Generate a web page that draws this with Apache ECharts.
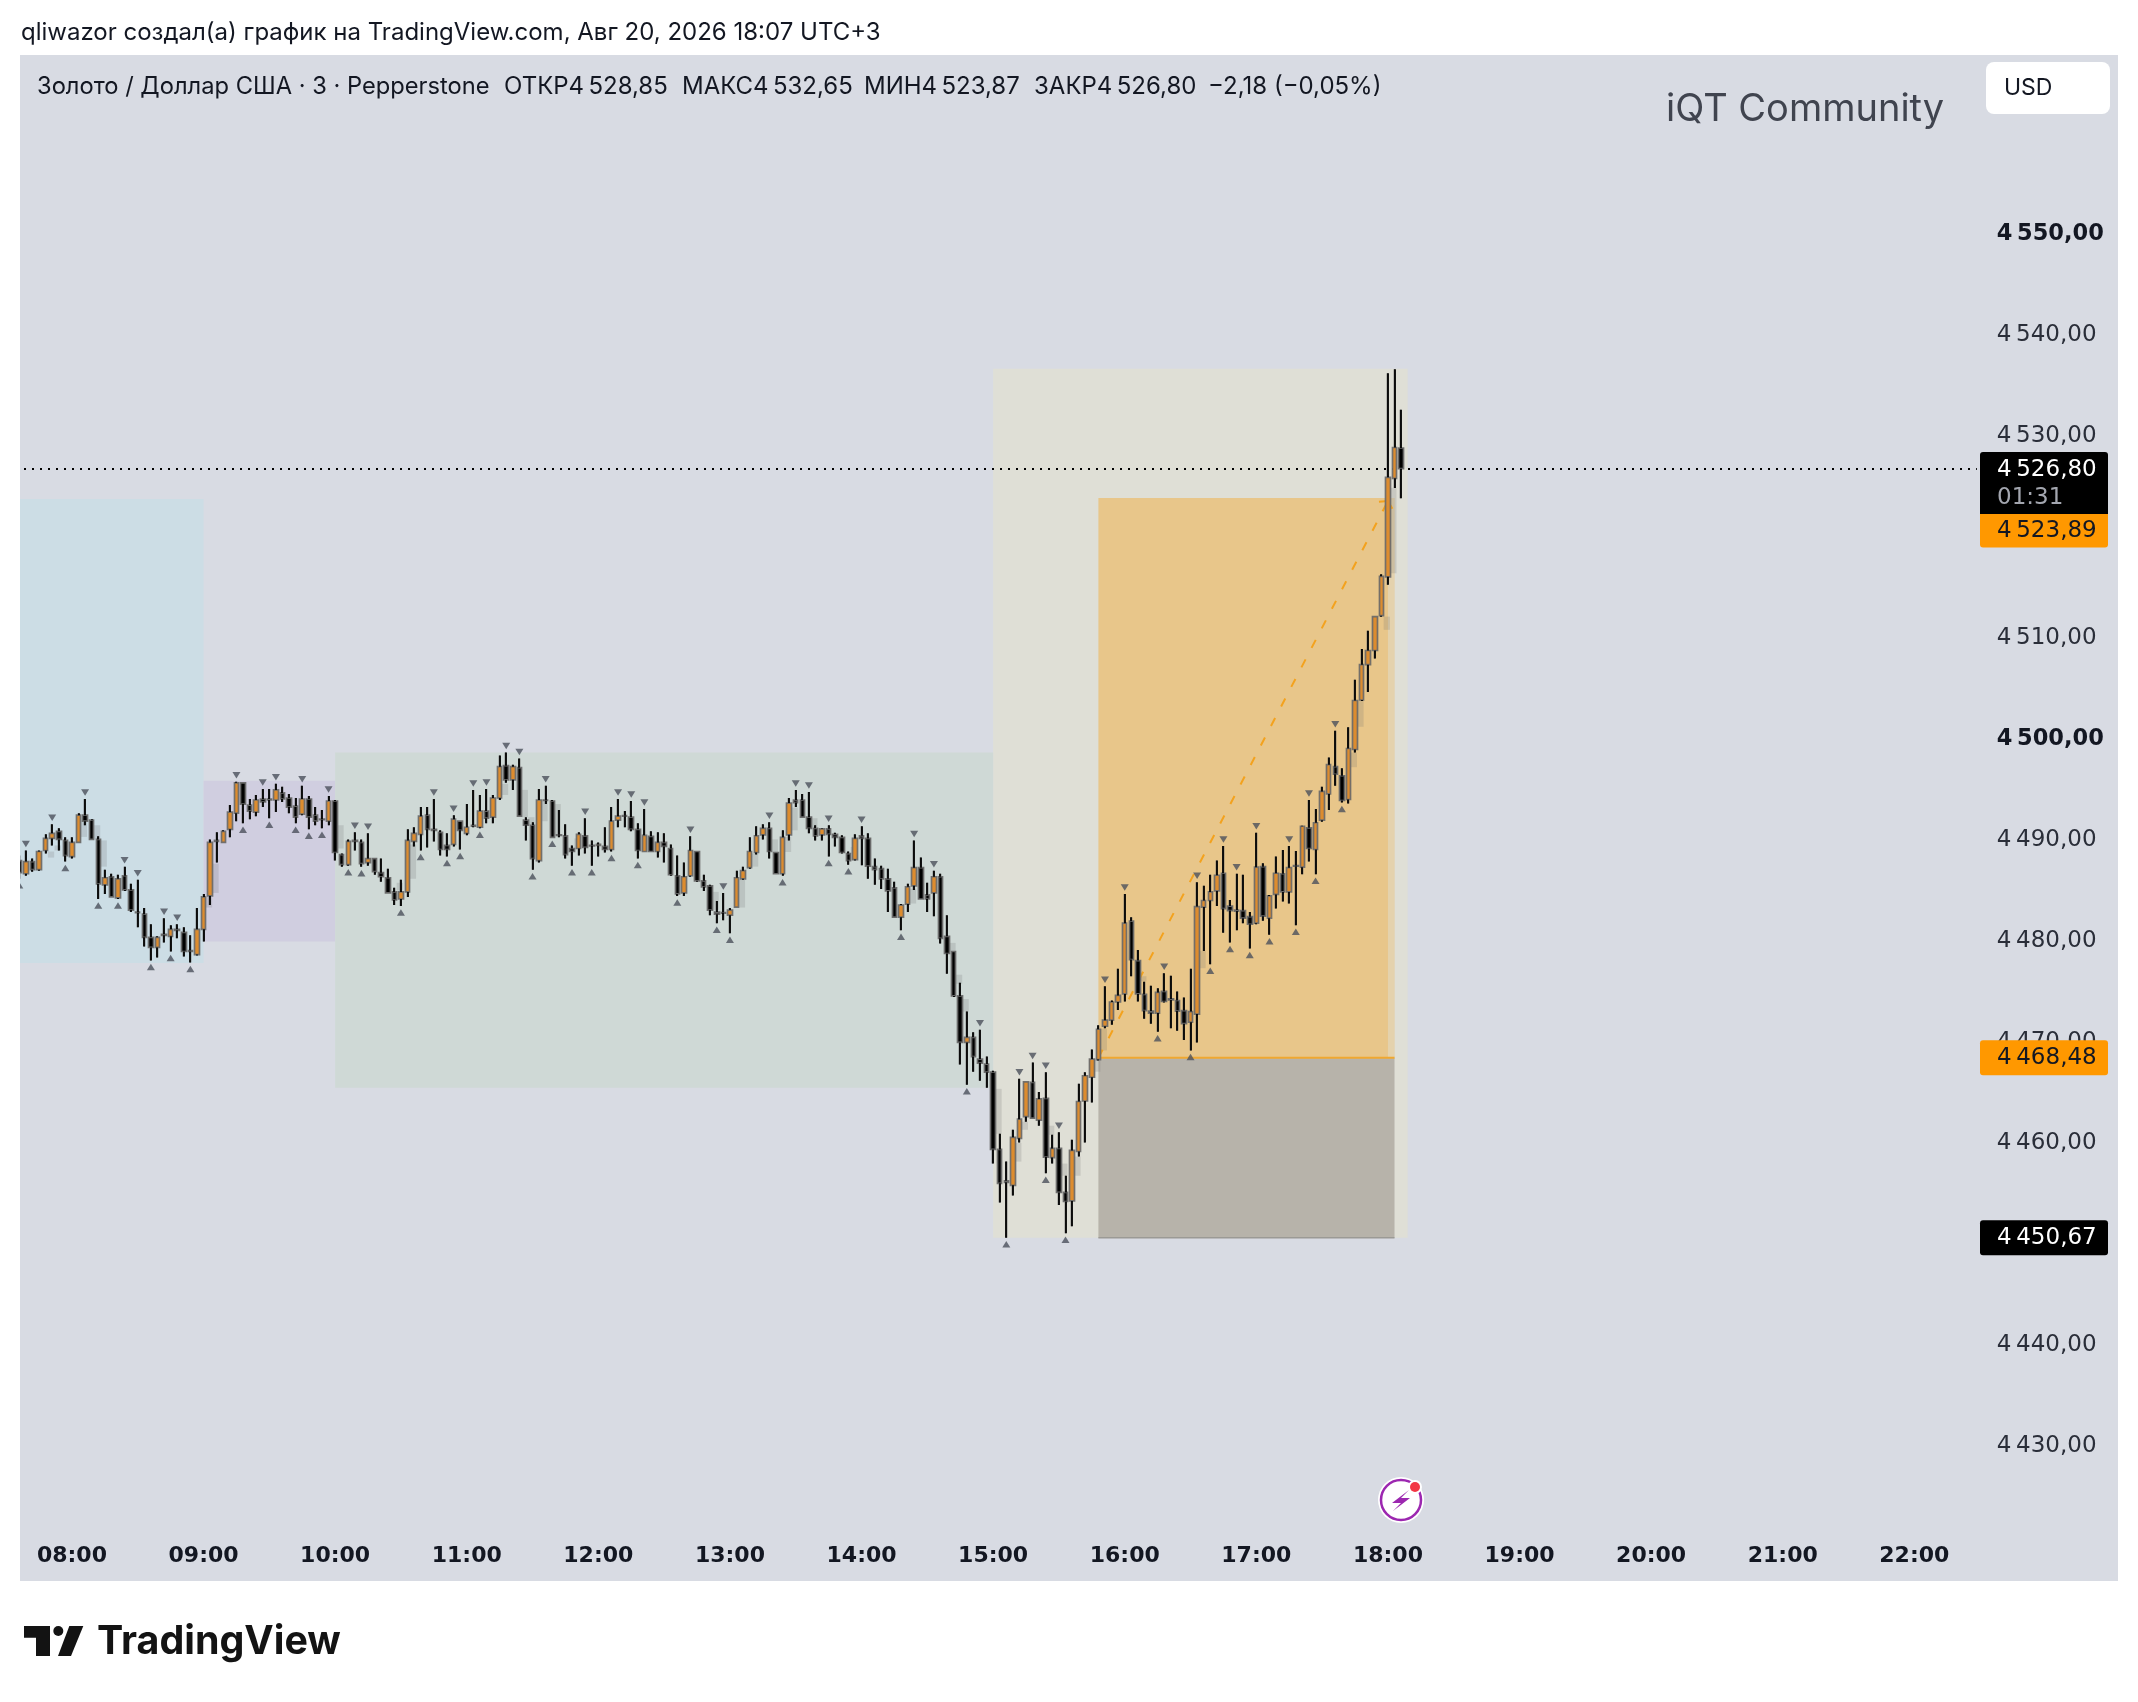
<!DOCTYPE html>
<html>
<head>
<meta charset="utf-8">
<style>html,body{margin:0;padding:0;background:#fff}#c{width:2138px;height:1702px}</style>
<script src="https://cdn.jsdelivr.net/npm/echarts@6/dist/echarts.min.js"></script>
</head>
<body>
<div id="c"></div>
<script>
// ---- tick labels
const priceTicks = [4550,4540,4530,4520,4510,4500,4490,4480,4470,4460,4450,4440,4430];
const boldPriceTicks = [4550,4500];

// ---- 3-minute candles; the first bar is 07:36, bar n is n*3 minutes later
const opens = [4488.0,
4486.7,4487.9,4487.1,4489.0,4490.2,4490.9,4490.0,4488.4,4489.8,4492.5,
4492.0,4490.1,4485.6,4486.4,4484.3,4486.5,4485.1,4482.9,4482.7,4480.4,
4479.4,4480.7,4480.5,4481.2,4480.9,4479.1,4478.7,4481.2,4484.5,4490.0,
4489.8,4491.1,4492.7,4495.7,4493.5,4492.8,4494.1,4494.1,4494.0,4494.7,
4494.2,4493.4,4492.6,4494.1,4492.5,4492.1,4491.9,4493.9,4488.6,4487.6,
4490.0,4489.8,4487.8,4488.2,4486.8,4486.3,4484.9,4484.2,4484.9,4489.9,
4490.6,4492.5,4491.1,4490.8,4489.5,4489.6,4491.9,4490.7,4491.5,4491.3,
4492.9,4492.3,4494.2,4497.4,4496.0,4497.2,4492.0,4491.5,4488.0,4494.0,
4493.9,4490.55,4490.45,4489.2,4489.2,4490.45,4489.5,4489.5,4489.4,4489.1,
4492.0,4492.45,4492.3,4491.1,4488.9,4490.4,4488.9,4489.8,4489.2,4486.5,
4484.8,4486.5,4488.9,4486.0,4485.5,4482.9,4482.85,4482.6,4483.4,4486.2,
4487.3,4488.8,4490.55,4491.2,4488.8,4486.7,4490.55,4494.0,4494.0,4492.3,
4491.2,4490.55,4491.15,4490.6,4490.3,4488.7,4488.1,4490.45,4490.2,4487.4,
4487.2,4486.2,4485.3,4482.4,4483.7,4485.5,4487.3,4484.6,4484.8,4486.4,
4480.5,4479.0,4474.6,4470.0,4470.5,4468.35,4467.85,4467.05,4459.4,4456.3,
4455.85,4460.5,4462.65,4466.05,4462.3,4464.45,4458.6,4459.5,4455.15,4454.3,
4459.2,4464.2,4466.55,4468.3,4471.6,4472.2,4474.0,4474.8,4482.0,4478.1,
4474.75,4473.1,4472.9,4475.05,4474.3,4474.15,4473.15,4472.0,4472.8,4483.4,
4484.05,4485.0,4486.75,4483.5,4483.1,4483.05,4482.45,4481.8,4487.4,4482.3,
4484.65,4486.7,4484.9,4487.5,4487.35,4491.25,4489.1,4492.0,4494.6,4497.3,
4496.4,4494.05,4499.0,4503.9,4507.4,4508.8,4512.25,4516.1,4525.85,4528.85];
const highs = [4488.5,
4489.0,4488.2,4489.0,4490.6,4491.6,4491.2,4490.3,4490.3,4492.7,4494.1,
4492.1,4490.4,4487.1,4486.7,4486.6,4487.4,4485.7,4486.1,4483.3,4481.7,
4480.5,4482.3,4481.6,4481.7,4481.4,4480.6,4483.3,4484.7,4490.1,4490.8,
4491.0,4493.5,4495.8,4495.7,4494.1,4494.5,4495.1,4495.1,4495.6,4495.3,
4494.6,4494.2,4495.4,4494.4,4493.3,4493.0,4494.4,4494.0,4488.7,4490.1,
4490.8,4490.1,4490.7,4488.2,4488.2,4487.2,4485.3,4486.1,4491.1,4491.3,
4493.3,4493.3,4494.1,4491.0,4490.7,4492.5,4491.9,4493.6,4495.0,4494.5,
4495.1,4494.5,4498.4,4498.7,4497.5,4498.1,4492.3,4491.8,4495.1,4495.4,
4494.0,4493.0,4491.6,4489.5,4490.8,4492.2,4490.0,4489.8,4491.3,4493.3,
4494.1,4492.9,4493.9,4491.7,4493.1,4490.9,4490.8,4490.7,4489.6,4488.5,
4487.8,4490.4,4488.9,4486.6,4485.6,4484.0,4484.8,4483.3,4487.0,4487.4,
4490.3,4491.4,4491.6,4491.8,4488.8,4491.0,4494.2,4495.0,4494.6,4494.8,
4491.5,4491.2,4491.5,4490.75,4490.5,4488.9,4490.6,4491.4,4490.7,4488.2,
4487.5,4487.2,4485.9,4483.7,4485.7,4490.0,4488.3,4485.8,4487.0,4486.7,
4482.6,4479.0,4475.9,4473.05,4471.0,4471.25,4468.6,4467.2,4460.95,4458.2,
4461.35,4466.4,4466.1,4468.0,4465.1,4467.05,4460.85,4461.1,4456.8,4460.35,
4465.9,4467.05,4469.3,4471.7,4475.55,4474.15,4477.3,4484.7,4482.4,4479.15,
4476.0,4475.6,4475.35,4476.85,4476.6,4475.05,4474.45,4477.3,4485.85,4485.5,
4486.6,4488.0,4489.45,4484.1,4486.7,4486.6,4482.9,4490.75,4487.75,4484.6,
4488.4,4489.05,4489.45,4488.95,4491.45,4494.0,4493.1,4495.3,4498.2,4500.85,
4497.15,4501.2,4505.9,4508.95,4510.75,4512.15,4516.35,4536.25,4536.65,4532.65];
const lows = [4486.2,
4486.5,4486.9,4487.0,4488.7,4489.5,4489.0,4487.9,4488.2,4489.8,4491.5,
4490.1,4484.2,4484.7,4484.4,4484.2,4485.0,4482.9,4481.4,4479.5,4478.1,
4478.4,4479.9,4479.0,4480.3,4478.5,4477.9,4478.6,4480.0,4483.6,4487.8,
4489.8,4490.3,4491.9,4491.7,4492.1,4492.4,4493.3,4492.2,4492.8,4493.8,
4492.7,4491.7,4492.5,4491.1,4491.5,4491.2,4491.5,4488.0,4487.4,4487.5,
4489.0,4487.4,4487.5,4486.6,4485.9,4484.8,4483.6,4483.5,4484.4,4489.4,
4489.0,4489.3,4489.9,4488.5,4488.4,4489.4,4489.1,4490.5,4491.3,4491.2,
4491.7,4491.7,4494.0,4495.7,4495.0,4492.4,4490.0,4487.1,4487.8,4493.6,
4490.3,4490.3,4488.2,4487.5,4488.5,4488.7,4487.5,4488.4,4488.8,4488.9,
4491.3,4491.3,4490.9,4488.2,4488.9,4488.9,4488.3,4487.8,4486.5,4484.5,
4484.5,4486.4,4485.9,4485.0,4482.6,4481.8,4482.1,4480.8,4483.4,4486.1,
4487.2,4488.6,4490.1,4488.2,4486.7,4486.5,4490.0,4493.3,4492.3,4490.7,
4490.0,4490.0,4488.4,4489.4,4488.7,4487.6,4488.0,4487.55,4486.2,4485.6,
4485.2,4482.9,4482.4,4481.1,4482.9,4485.1,4484.2,4482.9,4482.5,4479.8,
4476.8,4474.5,4467.8,4465.8,4467.1,4466.2,4465.5,4458.0,4454.15,4450.67,
4454.85,4460.1,4462.15,4462.5,4461.75,4457.05,4458.0,4453.9,4451.1,4451.8,
4458.7,4460.1,4464.05,4468.2,4471.4,4471.75,4473.2,4474.05,4476.55,4474.05,
4472.35,4471.85,4471.05,4473.95,4471.4,4471.15,4470.25,4469.2,4470.0,4479.05,
4477.75,4483.5,4480.85,4479.9,4481.1,4481.8,4479.3,4481.7,4482.05,4480.65,
4483.25,4483.95,4483.75,4481.6,4486.65,4487.9,4486.65,4491.85,4493.0,4495.4,
4493.75,4493.65,4498.7,4503.8,4504.7,4508.0,4512.15,4515.3,4524.9,4523.87];
const closes = [4486.8,
4487.9,4487.1,4488.9,4490.2,4490.7,4490.1,4488.5,4489.8,4492.5,4491.9,
4490.1,4485.7,4486.3,4484.4,4486.2,4485.1,4483.1,4482.85,4480.4,4479.4,
4480.4,4480.6,4481.2,4481.1,4479.0,4479.0,4481.2,4484.4,4489.8,4489.9,
4490.9,4492.8,4495.7,4493.6,4492.9,4494.0,4493.8,4494.0,4495.0,4494.1,
4493.3,4492.3,4494.1,4492.3,4491.9,4492.05,4493.9,4488.8,4487.6,4489.9,
4489.9,4487.7,4488.2,4486.9,4486.4,4484.8,4484.1,4484.9,4490.0,4490.7,
4492.4,4491.1,4491.0,4489.1,4489.1,4492.1,4491.0,4491.3,4491.4,4492.9,
4492.2,4494.2,4497.3,4496.0,4497.3,4492.4,4491.5,4488.2,4494.0,4493.95,
4490.3,4490.5,4488.6,4488.9,4490.6,4489.3,4489.45,4489.6,4489.1,4491.9,
4492.4,4492.4,4491.1,4489.0,4490.5,4488.9,4489.8,4489.4,4486.6,4484.7,
4486.4,4489.0,4486.0,4485.4,4483.1,4482.7,4482.8,4483.1,4486.3,4487.0,
4488.9,4490.45,4491.2,4488.9,4486.7,4490.3,4493.7,4493.75,4492.3,4491.2,
4490.45,4491.15,4490.6,4490.3,4488.8,4488.0,4490.2,4490.2,4487.45,4487.1,
4486.2,4485.0,4482.4,4483.6,4485.4,4487.3,4484.2,4484.2,4486.4,4480.3,
4478.8,4474.6,4470.0,4470.5,4468.6,4467.95,4467.05,4459.4,4456.05,4456.15,
4460.6,4462.4,4466.1,4462.5,4464.4,4458.65,4459.5,4455.15,4454.25,4459.3,
4464.15,4466.7,4468.35,4471.3,4472.2,4474.0,4474.65,4481.8,4478.2,4474.8,
4473.15,4472.9,4474.95,4474.05,4474.2,4473.1,4471.85,4473.05,4483.45,4484.05,
4484.9,4486.55,4483.25,4483.05,4483.0,4482.3,4481.7,4487.35,4482.5,4484.5,
4486.75,4484.9,4487.3,4487.45,4491.4,4489.2,4491.75,4494.85,4497.5,4496.55,
4493.95,4499.1,4503.85,4507.4,4508.8,4512.15,4516.15,4525.95,4528.9,4526.8];

// ---- swing markers, as bar numbers counted from the 07:36 bar
const swingHighBars = [1,5,10,16,18,22,24,33,37,39,43,47,51,53,63,66,69,71,74,76,80,86,91,93,95,102,107,114,118,120,123,128,136,139,146,152,154,156,158,165,168,174,179,183,185,188,193,196,200];
const swingLowBars = [0,7,12,15,20,23,26,34,38,42,44,46,50,52,58,61,65,67,70,78,81,84,87,90,94,100,106,108,116,123,126,134,144,150,156,159,173,178,181,184,187,190,194,197,201];

// ---- imbalance patches: bar number, upper price, lower price
const imbalances = [[4,4488.9,4488.3],[5,4489.5,4489.0],[9,4492.0,4490.35],[11,4491.5,4490.1],[12,4490.0,4487.4],[28,4484.4,4483.35],[29,4487.7,4484.8],[48,4491.5,4489.2],[57,4485.8,4485.05],[59,4489.6,4486.2],[73,4495.6,4494.5],[76,4495.0,4492.3],[77,4492.3,4491.5],[79,4494.05,4491.9],[81,4493.6,4490.5],[84,4490.2,4489.2],[105,4484.9,4483.1],[109,4486.1,4483.35],[111,4488.7,4487.4],[114,4490.1,4488.85],[116,4490.35,4488.85],[117,4493.25,4491.0],[120,4492.2,4491.3],[126,4489.35,4488.7],[135,4485.2,4483.75],[141,4479.85,4479.0],[142,4476.7,4475.8],[143,4474.3,4473.05],[148,4465.4,4460.95],[151,4460.05,4458.2],[152,4462.15,4461.35],[156,4461.75,4460.85],[158,4458.0,4456.8],[160,4458.7,4456.8],[163,4468.3,4467.1],[164,4471.35,4469.2],[170,4476.55,4476.05],[179,4479.05,4477.35],[202,4498.7,4497.25],[203,4503.85,4501.25],[207,4512.15,4510.85],[208,4524.9,4516.45]];

// ---- session boxes: start, end, upper price, lower price
const asiaBox = ['07:36','09:00',4523.8,4477.85];
const frankfurtBox = ['09:00','10:00',4495.9,4480.0];
const londonBox = ['10:00','15:00',4498.7,4465.5];
const rangeBox = ['15:00','18:09',4536.7,4450.67];
// ---- long position
const targetBox = ['15:48','18:03',4523.89,4468.48];
const stopBox = ['15:48','18:03',4468.48,4450.67];
const fadeBox = ['18:00','18:03',4523.89,4468.48];
const tradePath = [['15:48',4468.48],['18:00',4523.6]];

// ---- right-hand price tags
const lastPrice = 4526.80, targetPrice = 4523.89, entryPrice = 4468.48, stopPrice = 4450.67;
const countdown = '01:31';

// time categories
const categories = [];
for (let m = 7*60+36; m <= 22*60+27; m += 3) {
  categories.push(String(Math.floor(m/60)).padStart(2,'0')+':'+String(m%60).padStart(2,'0'));
}
const ink = '#131722';
const axisFont = '"DejaVu Sans"';
const uiFont = 'Inter, "Noto Sans", sans-serif';
const fmtPrice = v => { const s = v.toFixed(2).replace('.',','); return s[0]+'\u2009'+s.slice(1); };

const candleData = opens.map((o,i)=>[o,closes[i],lows[i],highs[i]]);
const wickData = opens.map((o,i)=>[i,highs[i],Math.max(o,closes[i]),Math.min(o,closes[i]),lows[i]]);

const boxes = [
  {b:rangeBox,color:'#dfdfd6'},
  {b:asiaBox,color:'#ccdde5'},
  {b:frankfurtBox,color:'#d0cee0'},
  {b:londonBox,color:'#cfd9d6'},
  {b:targetBox,color:'#e8c68a'},
  {b:stopBox,color:'#b7b3aa'},
  {b:fadeBox,color:'rgba(223,223,214,0.45)'}
];
function rectOf(api,start,end,top,bottom){
  const a = api.coord([categories.indexOf(start),top]);
  const b = api.coord([categories.indexOf(end),bottom]);
  return {x:a[0],y:a[1],width:b[0]-a[0],height:b[1]-a[1]};
}
const hdr = (text,x,y,size) => ({type:'text',z:200,silent:true,style:{text,x,y,fill:ink,font:(size||24)+'px '+uiFont,align:'left',verticalAlign:'middle'}});

const option = {
  animation:false,
  backgroundColor:'#ffffff',
  textStyle:{fontFamily:uiFont},
  grid:{left:16,top:133.4,width:298*6.58,height:1414,containLabel:false},
  xAxis:{type:'category',data:categories,boundaryGap:true,
    axisLine:{show:false},axisTick:{show:false},splitLine:{show:false},
    axisLabel:{interval:(i,v)=>v.endsWith(':00'),color:ink,fontFamily:axisFont,fontWeight:'bold',fontSize:22,margin:-2,hideOverlap:false}},
  yAxis:{type:'value',position:'right',min:4420,max:4560,interval:10,scale:true,
    axisLine:{show:false},axisTick:{show:false},splitLine:{show:false},
    axisLabel:{align:'left',margin:20,color:'#2a2e39',fontFamily:axisFont,fontSize:23,
      formatter:v=>{
        if(!priceTicks.includes(v)) return '';
        return boldPriceTicks.includes(v)?'{b|'+fmtPrice(v)+'}':fmtPrice(v);
      },
      rich:{b:{fontFamily:axisFont,fontWeight:'bold',fontSize:22.5,color:ink}}}},
  series:[
    {type:'custom',name:'boxes',z:1,coordinateSystem:'cartesian2d',data:boxes.map((b,i)=>[i,b.b[2]]),silent:true,
     renderItem:(p,api)=>{
       const it = boxes[api.value(0)];
       const r = rectOf(api,it.b[0],it.b[1],it.b[2],it.b[3]);
       return {type:'rect',shape:r,style:{fill:it.color}};
     }},
    {type:'custom',name:'levels',z:2,data:[[0,entryPrice],[1,stopPrice]],silent:true,
     renderItem:(p,api)=>{
       const isEntry = api.value(0)===0;
       const box = isEntry?targetBox:stopBox;
       const y = api.coord([0,api.value(1)])[1];
       const x1 = api.coord([categories.indexOf(box[0]),0])[0];
       const x2 = api.coord([categories.indexOf(box[1]),0])[0];
       return {type:'line',shape:{x1,y1:y,x2,y2:y},style:{stroke:isEntry?'#f0a830':'#9b9a95',lineWidth:isEntry?2:1.5}};
     }},
    {type:'custom',name:'imbalance',z:3,data:imbalances,silent:true,
     renderItem:(p,api)=>{
       const band = api.size([1,0])[0];
       const a = api.coord([api.value(0),api.value(1)]);
       const b = api.coord([api.value(0),api.value(2)]);
       return {type:'rect',shape:{x:a[0]+0.35*band,y:a[1],width:0.95*band,height:b[1]-a[1]},style:{fill:'rgba(110,110,110,0.2)'}};
     }},
    {type:'line',name:'trade',z:4,data:tradePath,symbol:'none',silent:true,
     lineStyle:{color:'#f3a21e',width:2,type:[9,13]}},
    {type:'custom',name:'trade head',z:4,silent:true,data:[[categories.indexOf(tradePath[1][0]),tradePath[1][1]]],
     renderItem:(p,api)=>{
       const c = api.coord([api.value(0),api.value(1)]);
       const a = api.coord([categories.indexOf(tradePath[0][0]),tradePath[0][1]]);
       const t = Math.atan2(c[1]-a[1],c[0]-a[0]);
       const arm = d=>[c[0]-9*Math.cos(t+d),c[1]-9*Math.sin(t+d)];
       return {type:'polyline',shape:{points:[arm(1.0),c,arm(-1.0)]},style:{fill:null,stroke:'#f3a21e',lineWidth:2}};
     }},
    {type:'candlestick',name:'XAUUSD',z:5,data:candleData,barWidth:5,silent:true,
     itemStyle:{color:'#dd8c2e',color0:'#000000',borderColor:'rgba(105,105,105,0.92)',borderColor0:'rgba(105,105,105,0.95)',borderWidth:1.7},
     markLine:{silent:true,symbol:'none',label:{show:false},
       data:[{yAxis:lastPrice}],lineStyle:{color:'#000',width:2,type:[2,6]}}},
    {type:'custom',name:'wicks',z:6,data:wickData,silent:true,
     renderItem:(p,api)=>{
       const x = Math.round(api.coord([api.value(0),0])[0]);
       const y = i=>api.coord([0,api.value(i)])[1];
       const s = {stroke:'#000',lineWidth:1.8};
       return {type:'group',children:[
         {type:'line',shape:{x1:x,y1:y(1),x2:x,y2:y(2)},style:s},
         {type:'line',shape:{x1:x,y1:y(3),x2:x,y2:y(4)},style:s}]};
     }},
    {type:'scatter',name:'swing highs',z:7,silent:true,symbol:'triangle',symbolRotate:180,symbolSize:[8,6.5],symbolOffset:[0,-6.5],
     itemStyle:{color:'#4b505b'},data:swingHighBars.map(i=>[i,highs[i]])},
    {type:'scatter',name:'swing lows',z:7,silent:true,symbol:'triangle',symbolSize:[8,6.5],symbolOffset:[0,6.5],
     itemStyle:{color:'#4b505b'},data:swingLowBars.map(i=>[i,lows[i]])},
    {type:'custom',name:'tags',z:20,silent:true,clip:false,
     data:[[0,lastPrice],[1,targetPrice],[2,entryPrice],[3,stopPrice]],
     renderItem:(p,api)=>{
       const k = api.value(0), v = api.value(1), y = api.coord([0,v])[1];
       const x = 1980, w = 128;
       const font = '23px '+axisFont;
       const tx = 1997;
       const T = (text,yy,fill)=>({type:'text',style:{text,x:tx,y:yy,fill,font,align:'left',verticalAlign:'middle'}});
       if(k===0) return {type:'group',children:[
         {type:'rect',shape:{x,y:y-16.7,width:w,height:62,r:[3,3,0,0]},style:{fill:'#000'}},
         T(fmtPrice(v),y+1,'#ffffff'),T(countdown,y+29,'#a3a6af')]};
       if(k===1) return {type:'group',children:[
         {type:'rect',shape:{x,y:y+16,width:w,height:33.5,r:[0,0,3,3]},style:{fill:'#ff9800'}},
         T(fmtPrice(v),y+32.5,ink)]};
       const fill = k===2?'#ff9800':'#000';
       return {type:'group',children:[
         {type:'rect',shape:{x,y:y-17.5,width:w,height:35,r:3},style:{fill}},
         T(fmtPrice(v),y,k===2?ink:'#ffffff')]};
     }}
  ],
  graphic:[
    {type:'rect',z:-10,silent:true,shape:{x:20,y:55,width:2098,height:1526},style:{fill:'#d8dbe3'}},
    {type:'rect',z:200,silent:true,shape:{x:0,y:55,width:20,height:1526},style:{fill:'#fff'}},
    hdr('qliwazor создал(а) график на TradingView.com, Авг 20, 2026 18:07 UTC+3',21,33),
    hdr('Золото / Доллар США · 3 · Pepperstone',37,87,23.7),
    hdr('ОТКР4\u2009528,85',504,87),
    hdr('МАКС4\u2009532,65',682,87),
    hdr('МИН4\u2009523,87',864,87),
    hdr('ЗАКР4\u2009526,80',1034,87),
    hdr('−2,18 (−0,05%)',1208,87),
    {type:'text',z:200,silent:true,style:{text:'iQT Community',x:1666,y:110,fill:'#40444f',font:'38px '+uiFont,align:'left',verticalAlign:'middle'}},
    {type:'rect',z:200,silent:true,shape:{x:1986,y:62,width:124,height:52,r:8},style:{fill:'#fff'}},
    {type:'text',z:201,silent:true,style:{text:'USD',x:2004,y:88,fill:ink,font:'23px '+uiFont,align:'left',verticalAlign:'middle'}},
    // alert icon
    {type:'circle',z:200,silent:true,shape:{cx:1401,cy:1500,r:23},style:{fill:'#fff'}},
    {type:'circle',z:201,silent:true,shape:{cx:1401,cy:1500,r:20},style:{fill:'#fff',stroke:'#9c27b0',lineWidth:2.5}},
    {type:'polygon',z:202,silent:true,shape:{points:[[1409,1490],[1392,1503],[1401,1503],[1393,1511],[1410,1498],[1401,1498]]},style:{fill:'#9c27b0'}},
    {type:'circle',z:203,silent:true,shape:{cx:1415,cy:1487,r:7},style:{fill:'#fff'}},
    {type:'circle',z:204,silent:true,shape:{cx:1415,cy:1487,r:5},style:{fill:'#f23645'}},
    // TradingView logo
    {type:'polygon',z:200,silent:true,shape:{points:[[24,1626],[50,1626],[50,1656],[36,1656],[36,1637.7],[24,1637.7]]},style:{fill:'#131313'}},
    {type:'circle',z:200,silent:true,shape:{cx:58.3,cy:1631,r:5},style:{fill:'#131313'}},
    {type:'polygon',z:200,silent:true,shape:{points:[[69.3,1626],[83.3,1626],[71,1656],[58,1656]]},style:{fill:'#131313'}},
    {type:'text',z:200,silent:true,style:{text:'TradingView',x:97,y:1642,fill:'#131313',font:'700 39.4px '+uiFont,align:'left',verticalAlign:'middle'}}
  ]
};
const chart = echarts.init(document.getElementById('c'),null,{renderer:'canvas',width:2138,height:1702});
chart.setOption(option);
</script>
</body>
</html>
